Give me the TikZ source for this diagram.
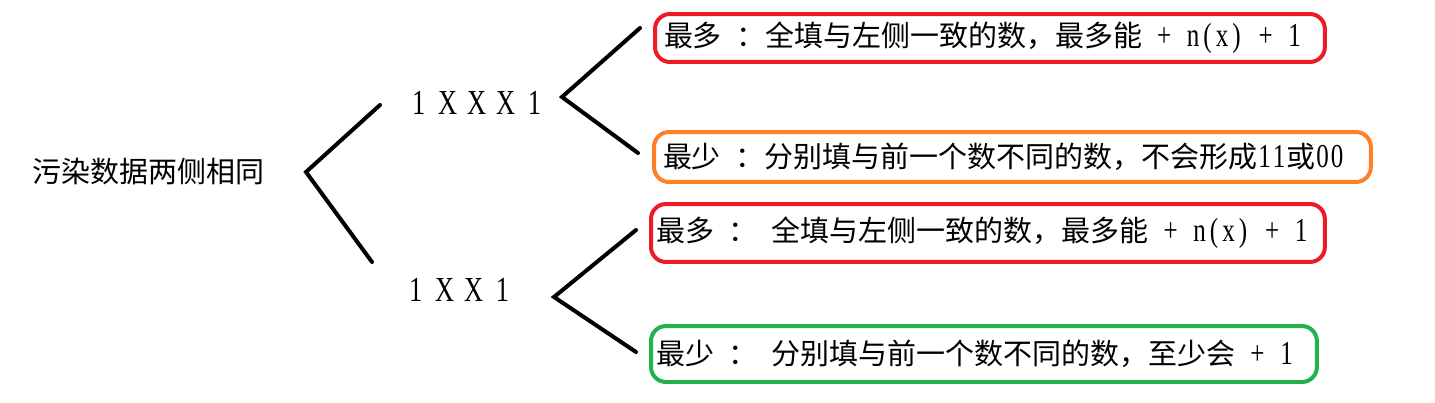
\documentclass[tikz,border=0pt]{standalone}
\usepackage{graphicx}
\usepackage{fontspec}
\setmainfont{Liberation Serif}
\newfontfamily\cjk{Noto Sans CJK SC}
\usetikzlibrary{positioning}
\newcommand\zh[1]{{\cjk #1}}
% half-width cells, one per character
\newlength\cellw
\setlength\cellw{0.29cm}
\newcommand\hwloop[1]{\ifx#1\relax\else\makebox[\cellw]{\scalebox{0.75}[1]{#1}}\expandafter\hwloop\fi}
\newcommand\half[1]{\hwloop#1\relax}
\newcommand\lat[1]{{\fontsize{19}{20}\selectfont\half{#1}}}

\begin{document}
\begin{tikzpicture}[x=0.02cm, y=-0.02cm,
    seg/.style={line width=0.08cm, line cap=round, line join=miter},
    res/.style={draw=#1, line width=0.08cm, rounded corners=0.3cm, anchor=west, align=left, font=\fontsize{16.5}{20}\selectfont},
    lbl/.style={anchor=west, inner sep=0pt}
]
\definecolor{pred}{RGB}{237,28,36}
\definecolor{porange}{RGB}{255,127,39}
\definecolor{pgreen}{RGB}{34,177,76}
\useasboundingbox (0,0) rectangle (1435,402);

% labels
\node[lbl, font=\fontsize{16.5}{20}\selectfont] (root) at (32,172) {\zh{污染数据两侧相同}};
\node[lbl, font=\fontsize{20}{22}\selectfont] (four) at (411,103) {\half{1~X~X~X~1}};
\node[lbl, font=\fontsize{20}{22}\selectfont] (three) at (408,290) {\half{1~X~X~1}};

% results
\node[res=pred, inner xsep=0.18cm, text width=13.04cm, minimum height=0.96cm] (maxa) at (653,38)
  {\zh{最多}\half{~}\zh{：全填与左侧一致的数，最多能}\lat{~+~n(x)~+~1}};
\node[res=porange, inner xsep=0.18cm, text width=13.98cm, minimum height=1.0cm] (mina) at (652,157)
  {\zh{最少}\half{~}\zh{：分别填与前一个数不同的数，不会形成}\lat{11}\zh{或}\lat{00}};
\node[res=pred, inner xsep=0.1cm, text width=13.28cm, minimum height=1.16cm] (maxb) at (649,233)
  {\zh{最多}\half{~}\zh{：}\half{~}\zh{全填与左侧一致的数，最多能}\lat{~+~n(x)~+~1}};
\node[res=pgreen, inner xsep=0.1cm, text width=13.12cm, minimum height=1.12cm] (minb) at (649,354)
  {\zh{最少}\half{~}\zh{：}\half{~}\zh{分别填与前一个数不同的数，至少会}\lat{~+~1}};

% forks
\coordinate (rootfork) at (306,172);
\coordinate (rootup) at (380,105);
\coordinate (rootdown) at (372,262);
\coordinate (fourfork) at (562,97);
\coordinate (fourup) at (640,28);
\coordinate (fourdown) at (638,153);
\coordinate (threefork) at (554,297);
\coordinate (threeup) at (636,230);
\coordinate (threedown) at (636,352);

\draw[seg] (rootup) -- (rootfork) -- (rootdown);
\draw[seg] (fourup) -- (fourfork) -- (fourdown);
\draw[seg] (threeup) -- (threefork) -- (threedown);
\end{tikzpicture}
\end{document}
